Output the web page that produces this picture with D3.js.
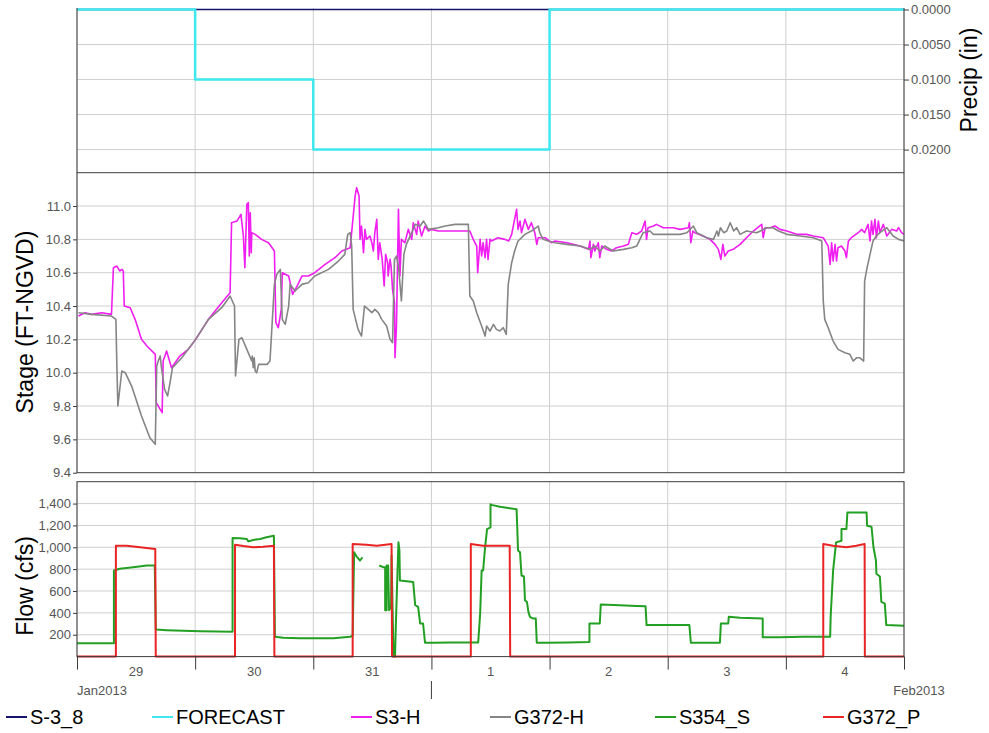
<!DOCTYPE html>
<html lang="en">
<head>
<meta charset="utf-8">
<title>S-3 precip, stage and flow</title>
<script src="https://cdn.jsdelivr.net/npm/d3@7"></script>
<style>
  body { margin: 0; background: #fff; }
  svg { display: block; font-family: "Liberation Sans", Arial, sans-serif; }
</style>
</head>
<body>
<script>
// all times are hours after 29 Jan 2013 00:00

// precip (in)
var precipHours = [0, 24, 48, 72, 96, 120, 144, 168];
var precipS38 = [0, 0, 0, 0, 0, 0, 0, 0];
var precipForecast = [0, 0.01, 0.02, 0.02, 0, 0, 0, 0];

// stage (ft-ngvd) : [hour, value]
var stageS3H = [
  [0.3,10.34],[1.6,10.36],[3,10.35],[5,10.36],[7.0,10.35],[7.4,10.63],[8.1,10.64],[8.7,10.61],[9.1,10.62],[9.4,10.61],
  [9.6,10.40],[10.8,10.39],[11.8,10.32],[13.1,10.20],[14.2,10.16],[15.9,10.11],[16.1,9.82],[17.3,9.76],[17.5,10.07],
  [18.2,10.13],[19.2,10.03],[20.9,10.10],[22.6,10.14],[24.1,10.20],[26.7,10.32],[29.4,10.42],[31.1,10.48],[31.4,10.90],
  [32.5,10.91],[33.3,10.95],[33.8,10.82],[34.1,10.63],[34.5,11.01],[34.8,11.02],[35.0,10.70],[35.2,10.96],[35.4,10.72],
  [35.5,10.84],[36.2,10.83],[37.5,10.80],[38.9,10.78],[40.1,10.73],[40.4,10.30],[40.9,10.27],[41.5,10.38],[41.7,10.60],
  [43.0,10.58],[43.8,10.47],[44.7,10.52],[45.7,10.58],[47.0,10.58],[48.3,10.60],[50.4,10.65],[52.4,10.69],[53.8,10.73],
  [55.5,10.75],[56.5,11.06],[56.8,11.11],[57.3,11.06],[57.5,10.80],[57.8,10.88],[58.2,10.72],[58.5,10.86],[58.8,10.80],
  [59.5,10.82],[59.9,10.78],[60.2,10.73],[60.5,10.84],[60.9,10.92],[61.2,10.68],[61.5,10.78],[62.0,10.68],[62.4,10.52],
  [62.7,10.71],[63.1,10.66],[63.2,10.58],[63.6,10.68],[63.8,10.64],[64.1,10.50],[64.5,10.42],[64.6,10.09],[64.9,10.28],
  [65.3,10.98],[65.6,10.58],[65.9,10.80],[66.6,10.78],[67.3,10.86],[68.0,10.80],[68.3,10.90],[69.0,10.83],[69.3,10.91],
  [70.0,10.82],[70.7,10.88],[71.4,10.85],[72.0,10.86],[73.4,10.85],[74.8,10.85],[76.8,10.85],[79.8,10.85],[80.5,10.80],
  [81.2,10.76],[81.4,10.60],[81.9,10.80],[82.2,10.70],[82.5,10.78],[82.9,10.69],[83.2,10.80],[83.5,10.68],[83.9,10.80],
  [84.2,10.79],[85.5,10.81],[86.9,10.80],[87.7,10.79],[88.3,10.83],[89.3,10.98],[89.6,10.86],[90.0,10.91],[90.3,10.84],
  [91.0,10.92],[91.7,10.86],[92.3,10.90],[93.0,10.84],[93.4,10.77],[93.7,10.81],[95.1,10.81],[96.4,10.78],[97.1,10.79],
  [99.5,10.78],[102.2,10.76],[103.9,10.74],[104.2,10.79],[104.4,10.69],[104.9,10.77],[105.2,10.73],[105.9,10.78],
  [106.2,10.69],[106.6,10.76],[107.6,10.74],[108.6,10.73],[109.6,10.75],[111.0,10.76],[112.0,10.77],[112.7,10.84],
  [113.7,10.83],[114.7,10.85],[115.4,10.91],[115.7,10.80],[116.0,10.87],[117.1,10.88],[117.7,10.89],[119.1,10.87],
  [121.1,10.87],[122.5,10.86],[124.2,10.87],[124.4,10.90],[124.7,10.78],[125.1,10.85],[125.5,10.84],[127.2,10.82],
  [128.6,10.80],[129.6,10.77],[130.3,10.74],[130.8,10.68],[131.2,10.77],[131.6,10.70],[132.3,10.73],[133.3,10.74],
  [134.7,10.77],[136.0,10.81],[137.4,10.85],[139.1,10.89],[139.4,10.81],[139.8,10.87],[140.8,10.87],[141.8,10.88],
  [142.8,10.86],[144.2,10.85],[146.2,10.83],[148.2,10.83],[149.6,10.82],[151.6,10.81],[152.6,10.76],[153.0,10.65],
  [153.3,10.78],[153.6,10.67],[154.0,10.77],[154.3,10.67],[154.6,10.75],[155.3,10.76],[156.0,10.73],[156.3,10.69],
  [156.7,10.79],[157.3,10.81],[158.7,10.84],[159.4,10.86],[160.0,10.84],[160.7,10.89],[161.1,10.79],[161.4,10.91],
  [161.7,10.83],[162.1,10.92],[162.4,10.81],[162.8,10.91],[163.1,10.84],[163.8,10.89],[164.5,10.82],[165.5,10.86],
  [166.5,10.85],[166.9,10.87],[167.5,10.84],[168,10.83]
];
var stageG372H = [
  [0.3,10.36],[3,10.35],[7.0,10.34],[7.9,10.32],[8.1,10.04],[8.3,9.80],[9.1,10.01],[9.8,10.00],[11.1,9.92],[13.1,9.74],
  [14.8,9.61],[15.9,9.57],[16.2,10.04],[16.5,10.07],[16.9,10.10],[17.2,10.02],[17.8,9.90],[18.4,9.86],[18.9,9.94],
  [19.4,10.03],[21.3,10.09],[24.1,10.20],[26.7,10.32],[29.4,10.39],[31.1,10.46],[32.0,10.40],[32.2,9.98],[32.9,10.20],
  [33.5,10.21],[34.5,10.14],[35.5,10.07],[35.6,10.10],[35.8,10.03],[36.0,10.09],[36.2,10.01],[36.5,10.00],[36.9,10.05],
  [38.6,10.05],[39.2,10.07],[40.1,10.53],[40.6,10.59],[41.3,10.62],[41.7,10.32],[42.3,10.29],[43.0,10.40],[43.3,10.53],
  [44.3,10.49],[45.7,10.53],[47.0,10.54],[48.3,10.58],[51.1,10.62],[53.1,10.67],[54.4,10.71],[55.0,10.83],[55.5,10.84],
  [55.8,10.76],[56.1,10.38],[57.1,10.26],[57.8,10.22],[58.4,10.40],[59.2,10.38],[59.9,10.36],[60.5,10.38],[61.2,10.36],
  [61.9,10.32],[62.9,10.28],[63.6,10.20],[64.1,10.18],[64.5,10.68],[64.9,10.70],[65.3,10.64],[65.9,10.43],[66.4,10.71],
  [66.9,10.77],[68.0,10.84],[68.7,10.89],[69.7,10.88],[70.4,10.91],[71.4,10.86],[73.4,10.87],[74.8,10.88],[76.8,10.89],
  [79.5,10.89],[79.8,10.46],[80.5,10.43],[81.2,10.36],[82.2,10.28],[82.9,10.22],[83.2,10.28],[83.9,10.25],[84.6,10.29],
  [85.2,10.26],[85.9,10.25],[86.6,10.27],[87.2,10.23],[87.6,10.53],[88.3,10.66],[88.9,10.73],[89.6,10.79],[91.0,10.83],
  [92.3,10.85],[93.7,10.88],[94.0,10.84],[94.7,10.80],[95.7,10.79],[97.1,10.78],[99.5,10.77],[102.2,10.76],[104.2,10.74],
  [105.2,10.76],[106.2,10.73],[107.2,10.76],[108.9,10.73],[111.0,10.74],[112.7,10.75],[113.7,10.76],[115.0,10.84],
  [116.4,10.85],[117.1,10.83],[119.8,10.83],[122.5,10.83],[123.9,10.84],[125.2,10.88],[125.9,10.84],[127.9,10.81],
  [129.3,10.80],[130.0,10.85],[130.3,10.82],[130.7,10.87],[131.4,10.84],[132.0,10.85],[132.7,10.90],[133.4,10.85],
  [134.0,10.87],[134.7,10.83],[136.0,10.85],[138.1,10.84],[140.1,10.87],[141.4,10.87],[142.5,10.85],[144.2,10.83],
  [146.9,10.82],[149.6,10.81],[151.3,10.79],[151.6,10.43],[151.9,10.32],[152.6,10.27],[153.6,10.19],[154.6,10.14],
  [156.0,10.12],[157.0,10.11],[157.7,10.07],[158.4,10.09],[159.0,10.09],[159.8,10.07],[160.0,10.55],[160.5,10.63],
  [161.1,10.71],[161.7,10.79],[162.4,10.82],[163.1,10.84],[164.5,10.87],[165.8,10.82],[166.9,10.80],[168,10.79]
];

// flow (cfs) : [hour, value], null = missing
var flowS354S = [
  [0,121],[7.5,121],[7.5,788],[8.7,803],[11.4,818],[14.2,833],[15.8,833],[16.0,248],[18.2,242],[21.6,236],[25.0,233],
  [28.4,230],[31.6,227],[31.6,1085],[33.1,1082],[34.5,1076],[34.8,1054],[35.8,1067],[37.2,1076],[38.5,1091],[40.0,1106],
  [40.2,182],[41.9,173],[45.3,167],[48.7,167],[52.1,167],[55.5,182],[56.0,191],[56.3,955],[56.8,915],[57.5,879],
  [58.0,909],[59.5,null],[61.4,833],[62.2,818],[62.6,818],[62.6,424],[62.9,424],[62.9,833],[63.2,833],[63.4,424],
  [63.8,455],[63.9,924],[64.3,0],[64.6,0],[64.8,333],[65.3,1045],[65.5,970],[65.6,697],[68.3,682],[68.7,470],[69.3,455],
  [69.7,303],[70.3,303],[70.7,127],[72.4,127],[75.8,130],[79.1,130],[81.5,130],[81.9,394],[82.2,788],[82.5,788],
  [82.9,1000],[83.3,1167],[84.0,1182],[84.0,1394],[84.2,1388],[85.9,1370],[89.3,1348],[89.6,970],[90.0,954],[90.3,742],
  [90.8,733],[91.0,515],[91.4,500],[91.7,409],[92.0,364],[92.7,348],[93.2,348],[93.4,127],[95.4,127],[99.8,130],
  [104.1,133],[104.1,303],[106.2,303],[106.4,476],[110.3,470],[113.7,464],[115.5,461],[115.7,288],[119.8,288],
  [124.4,288],[124.7,127],[127.9,127],[130.6,127],[130.8,303],[132.3,303],[132.4,364],[134.7,355],[139.3,348],
  [139.3,176],[142.8,176],[147.6,182],[153.0,182],[153.1,364],[153.6,788],[154.2,1045],[155.3,1060],[155.3,1167],
  [156.3,1167],[156.5,1318],[160.4,1318],[160.5,1197],[161.4,1188],[161.8,1000],[162.3,879],[162.4,758],[163.1,733],
  [163.4,500],[164.1,485],[164.4,288],[168,282]
];
var flowG372P = [
  [0,0],[7.9,0],[7.9,1015],[10.1,1015],[12.8,1000],[15.9,985],[16.0,0],[32.1,0],[32.1,1024],[33.8,1012],[35.8,1000],
  [37.8,1006],[40.0,1015],[40.1,0],[56.0,0],[56.0,1030],[58.8,1024],[60.9,1015],[63.9,1030],[64.0,0],[80.0,0],
  [80.0,1030],[82.5,1015],[85.9,1015],[87.9,1015],[88.0,0],[151.6,0],[151.6,1030],[153.6,1015],[156.3,1000],
  [158.3,1015],[160.0,1030],[160.05,0],[168,0]
];

var stageTicks = [9.4, 9.6, 9.8, 10.0, 10.2, 10.4, 10.6, 10.8, 11.0];
var flowTicks = [200, 400, 600, 800, 1000, 1200, 1400];
var precipTicks = [0, 0.005, 0.01, 0.015, 0.02];

var seriesNames = ["S-3_8", "FORECAST", "S3-H", "G372-H", "S354_S", "G372_P"];
var seriesColors = ["#14146e", "#3ee8ee", "#f01ef0", "#858585", "#23a023", "#e82424"];

var start = Date.UTC(2013, 0, 29);
function t(h) { return new Date(start + h * 3600000); }

var w = 989, h = 733;
var left = 77, right = 904;

var svg = d3.select("body").append("svg")
  .attr("width", w)
  .attr("height", h);

var x = d3.scaleUtc().domain([t(0), t(168)]).range([left, right]);
var yPrecip = d3.scaleLinear().domain([0, 0.0233]).range([9.5, 172.7]);
var yStage = d3.scaleLinear().domain([9.4, 11.2]).range([472.7, 172.7]);
var yFlow = d3.scaleLinear().domain([0, 1600]).range([656.6, 481.7]);

var days = d3.utcDay.range(t(0), t(168.5));

// grid
function vgrid(y0, y1) {
  svg.append("g").selectAll("line").data(days).enter().append("line")
    .attr("x1", function(d) { return x(d); }).attr("x2", function(d) { return x(d); })
    .attr("y1", y0).attr("y2", y1)
    .attr("stroke", "#cfcfcf").attr("stroke-width", 1);
}
function hgrid(scale, ticks) {
  svg.append("g").selectAll("line").data(ticks).enter().append("line")
    .attr("x1", left).attr("x2", right)
    .attr("y1", function(d) { return scale(d); }).attr("y2", function(d) { return scale(d); })
    .attr("stroke", "#cfcfcf").attr("stroke-width", 1);
}
vgrid(8, 172.7);
vgrid(172.7, 472.7);
vgrid(481.7, 656.6);
hgrid(yPrecip, precipTicks.slice(1));
hgrid(yStage, stageTicks.slice(1));
hgrid(yFlow, flowTicks);

// lines
function drawLine(data, y, color, width, curve) {
  var line = d3.line()
    .defined(function(d) { return d[1] != null; })
    .x(function(d) { return x(t(d[0])); })
    .y(function(d) { return y(d[1]); })
    .curve(curve || d3.curveLinear);
  svg.append("path")
    .datum(data)
    .attr("fill", "none")
    .attr("stroke", color)
    .attr("stroke-width", width)
    .attr("stroke-linejoin", "round")
    .attr("d", line);
}

var obs = precipHours.map(function(d, i) { return [d, precipS38[i]]; });
var fcst = precipHours.map(function(d, i) { return [d, precipForecast[i]]; });
drawLine(obs, yPrecip, seriesColors[0], 1.5, d3.curveStepAfter);
drawLine(fcst, yPrecip, seriesColors[1], 2.5, d3.curveStepAfter);

drawLine(stageS3H, yStage, seriesColors[2], 1.6);
drawLine(stageG372H, yStage, seriesColors[3], 1.6);

drawLine(flowS354S, yFlow, seriesColors[4], 2);
drawLine(flowG372P, yFlow, seriesColors[5], 2);

// frames
var frame = "#3c3c3c";
svg.append("line").attr("x1", left).attr("x2", left).attr("y1", 8).attr("y2", 172.7).attr("stroke", frame);
svg.append("line").attr("x1", right).attr("x2", right).attr("y1", 8).attr("y2", 172.7).attr("stroke", frame);
svg.append("rect").attr("x", left).attr("y", 172.7).attr("width", right - left).attr("height", 300)
  .attr("fill", "none").attr("stroke", frame);
svg.append("rect").attr("x", left).attr("y", 481.7).attr("width", right - left).attr("height", 656.6 - 481.7)
  .attr("fill", "none").attr("stroke", frame);

// axes
function styleAxis(g) {
  g.select(".domain").remove();
  g.selectAll(".tick line").attr("stroke", frame);
  g.selectAll(".tick text").attr("fill", "#555").attr("font-size", "13px")
    .attr("font-family", "'Liberation Sans', Arial, sans-serif");
}

svg.append("g")
  .attr("transform", "translate(" + right + ",0)")
  .call(d3.axisRight(yPrecip).tickValues(precipTicks).tickSize(5).tickPadding(2).tickFormat(d3.format(".4f")))
  .call(styleAxis);

svg.append("g")
  .attr("transform", "translate(" + left + ",0)")
  .call(d3.axisLeft(yStage).tickValues(stageTicks).tickSize(4).tickPadding(2).tickFormat(d3.format(".1f")))
  .call(styleAxis);

svg.append("g")
  .attr("transform", "translate(" + left + ",0)")
  .call(d3.axisLeft(yFlow).tickValues(flowTicks).tickSize(4).tickPadding(2).tickFormat(d3.format(",")))
  .call(styleAxis);

svg.append("g")
  .attr("transform", "translate(0,656.6)")
  .call(d3.axisBottom(x).tickValues(days).tickSize(13).tickFormat(""))
  .call(styleAxis);

// day labels centred on noon
svg.append("g").selectAll("text")
  .data(days.slice(0, 7))
  .enter().append("text")
  .attr("x", function(d) { return x(d3.utcHour.offset(d, 12)); })
  .attr("y", 676)
  .attr("text-anchor", "middle")
  .attr("font-size", "13px")
  .attr("fill", "#555")
  .text(function(d) { return d.getUTCDate(); });

svg.append("text").attr("x", left).attr("y", 695).attr("font-size", "13px").attr("fill", "#555").text("Jan2013");
svg.append("text").attr("x", 919).attr("y", 695).attr("text-anchor", "middle").attr("font-size", "13px").attr("fill", "#555").text("Feb2013");
svg.append("line")
  .attr("x1", x(t(72))).attr("x2", x(t(72)))
  .attr("y1", 681).attr("y2", 699)
  .attr("stroke", frame);

// axis titles
function yTitle(txt, cx, cy) {
  svg.append("text")
    .attr("transform", "translate(" + cx + "," + cy + ") rotate(-90)")
    .attr("text-anchor", "middle")
    .attr("font-size", "23px")
    .attr("fill", "#000")
    .text(txt);
}
yTitle("Precip (in)", 977, 80);
yTitle("Stage (FT-NGVD)", 33, 322);
yTitle("Flow (cfs)", 33, 586);

// legend
var legendX = [6, 152, 351, 490, 655, 823];
var legend = svg.append("g").selectAll("g")
  .data(seriesNames)
  .enter().append("g")
  .attr("transform", function(d, i) { return "translate(" + legendX[i] + ",717)"; });
legend.append("line")
  .attr("x1", 0).attr("x2", 21)
  .attr("stroke", function(d, i) { return seriesColors[i]; })
  .attr("stroke-width", 2);
legend.append("text")
  .attr("x", 24)
  .attr("y", 7)
  .attr("font-size", "20px")
  .attr("fill", "#000")
  .text(function(d) { return d; });
</script>
</body>
</html>
